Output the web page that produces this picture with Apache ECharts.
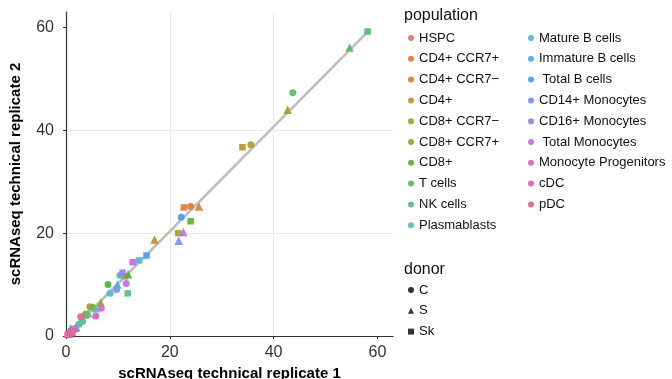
<!DOCTYPE html>
<html>
<head>
<meta charset="utf-8">
<script src="https://cdn.jsdelivr.net/npm/echarts@6/dist/echarts.min.js"></script>
<style>
  html, body { margin: 0; padding: 0; background: #fff; }
  #main { width: 672px; height: 379px; }
</style>
</head>
<body>
<div id="main"></div>
<script>
// 细胞群 (图例顺序)
var populations = ['HSPC', 'CD4+ CCR7+', 'CD4+ CCR7\u2212', 'CD4+', 'CD8+ CCR7\u2212', 'CD8+ CCR7+',
  'CD8+', 'T cells', 'NK cells', 'Plasmablasts', 'Mature B cells', 'Immature B cells',
  ' Total B cells', 'CD14+ Monocytes', 'CD16+ Monocytes', ' Total Monocytes',
  'Monocyte Progenitors', 'cDC', 'pDC'];
var popColors = ['#E07A74', '#DC8040', '#CF8C2C', '#BA9A2C', '#A3A432', '#88AD34', '#58B43C',
  '#5EBB6A', '#5EBE90', '#57C0B4', '#5CB9CD', '#56AEE6', '#4F9EF4', '#8390F0', '#A87DF0',
  '#C56FEA', '#D966D6', '#DE64B2', '#E06A8F'];

// 供体
var donors = ['C', 'S', 'Sk'];
var donorSymbols = ['circle', 'triangle', 'rect'];

// replicate 1 / replicate 2, 每个供体一组 (与 populations 同序)
var rep1C  = [1.2, 24.0, 3.8, 35.6, 4.6, 5.1, 8.1, 43.7, 2.5, 3.2, 8.5, 10.4, 22.2, 9.75, 1.5, 11.6, 6.8, 5.75, 2.85];
var rep2C  = [1.1, 25.2, 4.3, 37.2, 5.7, 5.6, 10.0, 47.3, 2.3, 2.8, 8.3, 11.8, 23.1, 9.05, 1.1, 10.2, 5.4, 3.9, 3.75];
var rep1S  = [0.8, 25.6, 17.05, 42.7, 3.0, 6.7, 11.95, 54.65, 4.3, 5.75, 2.0, 9.9, 0.9, 21.7, 0.6, 22.6, 1.2, 1.8, 0.4];
var rep2S  = [0.9, 25.2, 18.75, 44.0, 3.3, 6.5, 12.0, 56.1, 4.4, 5.4, 1.8, 10.0, 1.5, 18.5, 0.5, 20.2, 0.8, 1.6, 0.5];
var rep1Sk = [1.5, 22.7, 11.4, 34.0, 21.6, 3.8, 24.0, 58.1, 11.9, 1.6, 14.1, 0.5, 15.5, 0.7, 10.9, 12.85, 0.3, 0.9, 1.0];
var rep2Sk = [1.3, 25.0, 11.6, 36.7, 20.0, 4.0, 22.3, 59.2, 8.3, 1.4, 14.7, 0.4, 15.65, 0.3, 12.3, 14.35, 0.2, 0.6, 0.9];

// 拟合线
var fitX = [0, 58.7];
var fitY = [0, 59.7];

// 坐标轴刻度
var tickValues = [0, 20, 40, 60];

var myChart = echarts.init(document.getElementById('main'));

var reps = [[rep1C, rep2C], [rep1S, rep2S], [rep1Sk, rep2Sk]];
var symbolSizes = { circle: 7, triangle: 8.5, rect: 6.5 };

var series = [{
  name: 'fit',
  type: 'line',
  data: fitX.map(function (x, i) { return [x, fitY[i]]; }),
  symbol: 'none',
  lineStyle: { color: '#BDBDBD', width: 2.5 },
  z: 1,
  silent: true
}];

populations.forEach(function (name, p) {
  var data = [];
  donors.forEach(function (d, k) {
    var x = reps[k][0][p], y = reps[k][1][p];
    if (x == null || y == null) return;
    var sym = donorSymbols[k];
    data.push({ value: [x, y], symbol: sym, symbolSize: symbolSizes[sym] });
  });
  series.push({
    name: name,
    type: 'scatter',
    data: data,
    itemStyle: { color: popColors[p], opacity: 0.95 },
    z: 3
  });
});

// 供体图例用的空系列
donors.forEach(function (d, k) {
  series.push({
    name: d,
    type: 'scatter',
    symbol: donorSymbols[k],
    itemStyle: { color: '#000' },
    data: []
  });
});

function axisCfg(name, nameGap, labelMargin) {
  return {
    type: 'value',
    min: 0,
    max: 63,
    interval: 10,
    name: name,
    nameLocation: 'middle',
    nameGap: nameGap,
    nameTextStyle: { fontFamily: 'Liberation Sans', fontWeight: 'bold', fontSize: 15, color: '#000' },
    axisLine: { show: true, lineStyle: { color: '#333', width: 1.2 } },
    axisTick: { show: true, length: 3, customValues: tickValues, lineStyle: { color: '#333' } },
    axisLabel: { customValues: tickValues, fontFamily: 'Liberation Sans', fontSize: 16, color: '#333', margin: labelMargin },
    splitLine: { show: true, showMaxLine: false, lineStyle: { color: '#EBEBEB', width: 1 } }
  };
}

var legendText = { fontFamily: 'Liberation Sans', fontSize: 13, color: '#111', lineHeight: 14 };

var option = {
  animation: false,
  grid: { left: 66, right: 279, top: 12, bottom: 43, containLabel: false, outerBoundsMode: 'none' },
  xAxis: axisCfg('scRNAseq technical replicate 1', 29, 9),
  yAxis: axisCfg('scRNAseq technical replicate 2', 43, 12),
  title: [
    { text: 'population', left: 404, top: 8, padding: 0,
      textStyle: { fontFamily: 'Liberation Sans', fontSize: 16, fontWeight: 'normal', color: '#111' } },
    { text: 'donor', left: 404, top: 262, padding: 0,
      textStyle: { fontFamily: 'Liberation Sans', fontSize: 16, fontWeight: 'normal', color: '#111' } }
  ],
  legend: [
    { orient: 'vertical', left: 408, top: 31, padding: 0, itemGap: 6.8, itemWidth: 6, itemHeight: 6,
      icon: 'circle', selectedMode: false, textStyle: legendText, data: populations.slice(0, 10) },
    { orient: 'vertical', left: 528, top: 31, padding: 0, itemGap: 6.8, itemWidth: 6, itemHeight: 6,
      icon: 'circle', selectedMode: false, textStyle: legendText, data: populations.slice(10) },
    { orient: 'vertical', left: 408, top: 283, padding: 0, itemGap: 6.8, itemWidth: 6, itemHeight: 6,
      selectedMode: false, textStyle: legendText,
      data: donors.map(function (d, k) { return { name: d, icon: donorSymbols[k] }; }) }
  ],
  series: series
};

myChart.setOption(option);
</script>
</body>
</html>
